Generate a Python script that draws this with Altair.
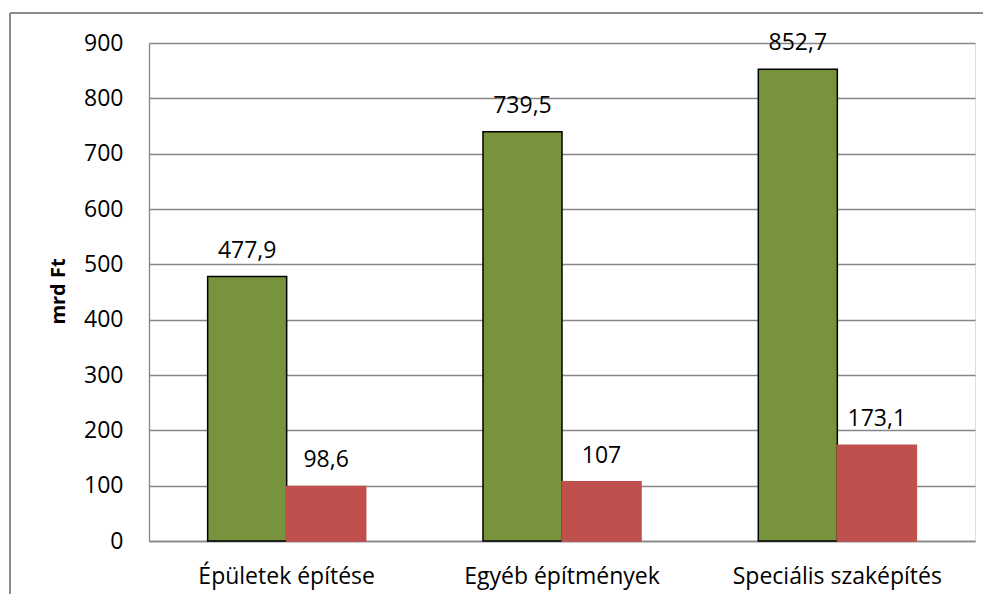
import altair as alt
import pandas as pd

categories = ["Épületek építése", "Egyéb építmények", "Speciális szaképítés"]
series = ["Sorozat 1", "Sorozat 2"]
values_1 = [477.9, 739.5, 852.7]
values_2 = [98.6, 107, 173.1]
y_ticks = [0, 100, 200, 300, 400, 500, 600, 700, 800, 900]
colors = ["#77933C", "#C0504D"]
strokes = ["#000000", "#C0504D"]

rows = []
for c, a, b in zip(categories, values_1, values_2):
    for s, v in zip(series, [a, b]):
        rows.append({"cat": c, "ser": s, "val": v,
                     "lab": f"{v:g}".replace(".", ",")})
df = pd.DataFrame(rows)

FONT = "Open Sans"
W, H = 826, 498

base = alt.Chart(df).encode(
    x=alt.X("cat:N", sort=categories,
            scale=alt.Scale(paddingInner=0.426, paddingOuter=0.213),
            axis=alt.Axis(title=None, labelAngle=0, ticks=False, tickSize=0,
                          labelPadding=42, labelBaseline="alphabetic",
                          labelLimit=0,
                          labelFontSize=23, labelFont=FONT, labelColor="#000000",
                          domainColor="#868686", domainWidth=1.3, grid=False)),
    xOffset=alt.XOffset("ser:N", sort=series),
    y=alt.Y("val:Q", scale=alt.Scale(domain=[0, 900], nice=False),
            axis=alt.Axis(values=y_ticks, title="mrd Ft", ticks=False, tickSize=0,
                          labelPadding=26, labelFontSize=23, labelFont=FONT,
                          labelColor="#000000", titleFont=FONT, titleFontSize=20,
                          titleFontWeight="bold", titleColor="#000000",
                          titleX=-91, titleY=248, titleBaseline="middle",
                          titleAlign="center",
                          gridColor="#868686", gridWidth=1.3,
                          domainColor="#868686", domainWidth=1.3)),
)

bars = base.mark_bar(strokeWidth=1.5).encode(
    color=alt.Color("ser:N", sort=series,
                    scale=alt.Scale(domain=series, range=colors), legend=None),
    stroke=alt.Stroke("ser:N", sort=series,
                      scale=alt.Scale(domain=series, range=strokes), legend=None),
)

texts = base.mark_text(baseline="alphabetic", dy=-19, fontSize=23, font=FONT,
                       color="#000000").encode(text="lab:N")

frame_df = pd.DataFrame({"k": [0]})
top_line = alt.Chart(frame_df).mark_rule(color="#8C8C8C", strokeWidth=2).encode(
    x=alt.value(-139), x2=alt.value(834), y=alt.value(-30))
left_line = alt.Chart(frame_df).mark_rule(color="#8C8C8C", strokeWidth=2).encode(
    x=alt.value(-139), y=alt.value(-30), y2=alt.value(560))

chart = alt.layer(bars, texts, top_line, left_line).properties(
    width=W, height=H,
    autosize=alt.AutoSizeParams(type="none"),
    padding={"left": 141, "top": 35, "right": 8, "bottom": 53},
).configure_view(stroke=None).configure(background="#FFFFFF")

chart.save("out.html", embed_options={"renderer": "svg", "actions": False})
